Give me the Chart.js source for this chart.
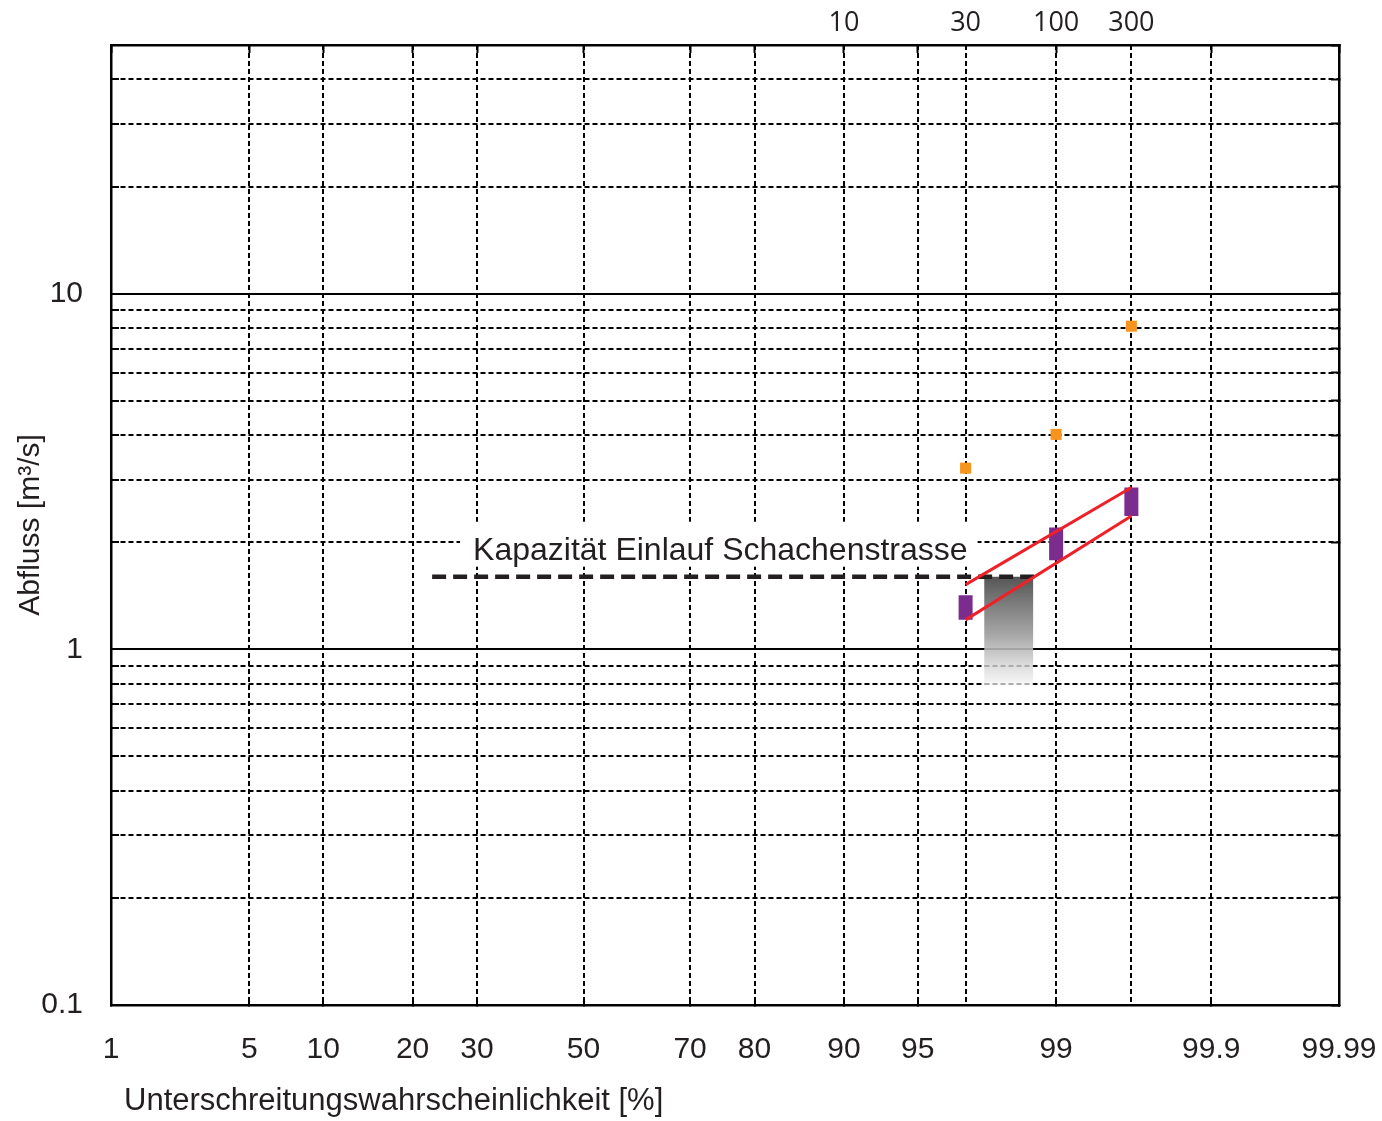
<!DOCTYPE html>
<html>
<head>
<meta charset="utf-8">
<script src="https://cdn.jsdelivr.net/npm/chart.js@4/dist/chart.umd.min.js"></script>
<style>
  html, body { margin: 0; padding: 0; background: #ffffff; }
  #wrap { width: 1382px; height: 1121px; }
</style>
</head>
<body>
<div id="wrap"><canvas id="c" width="1382" height="1121"></canvas></div>
<script>
// ---- axis ticks ----------------------------------------------------------
// Non-exceedance probabilities [%] on a normal probability grid
const probTicks  = [1, 5, 10, 20, 30, 50, 70, 80, 90, 95, 97, 99, 99.65, 99.9, 99.99];
const probLabels = ['1', '5', '10', '20', '30', '50', '70', '80', '90', '95', '', '99', '', '99.9', '99.99'];
// Return periods [years] shown along the top edge, and the probability they sit at
const returnPeriods     = ['10', '30', '100', '300'];
const returnPeriodProbs = [90, 97, 99, 99.65];
// Discharge grid [m3/s], logarithmic
const flowTicks  = [0.1, 0.2, 0.3, 0.4, 0.5, 0.6, 0.7, 0.8, 0.9,
                    1, 2, 3, 4, 5, 6, 7, 8, 9,
                    10, 20, 30, 40, 50];
const flowLabels = ['0.1', '', '', '', '', '', '', '', '',
                    '1', '', '', '', '', '', '', '', '',
                    '10', '', '', '', ''];

// ---- series ----------------------------------------------------------------
const eventProbs = [97, 99, 99.65];          // HQ30, HQ100, HQ300
const peakFlow   = [3.23, 4.02, 8.1];        // orange estimates
const rangeLow   = [1.21, 1.78, 2.37];       // purple ranges
const rangeHigh  = [1.42, 2.2, 2.85];
const bandProbs  = [97, 99.65];              // red envelope
const bandUpper  = [1.52, 2.85];
const bandLower  = [1.21, 2.37];
const capacityFlow  = 1.6;                   // inlet capacity
const capacityProbs = [22.8, 98.74];
const deficitProbs  = [97.57, 98.66];        // grey block below capacity
const deficitFloor  = 0.79;

const capacityText = 'Kapazität Einlauf Schachenstrasse';
const xTitle = 'Unterschreitungswahrscheinlichkeit [%]';
const yTitle = 'Abfluss [m³/s]';

// Inverse of the standard normal CDF (Acklam's rational approximation)
function probit(p) {
  const a = [-3.969683028665376e+01, 2.209460984245205e+02, -2.759285104469687e+02,
              1.383577518672690e+02, -3.066479806614716e+01, 2.506628277459239e+00];
  const b = [-5.447609879822406e+01, 1.615858368580409e+02, -1.556989798598866e+02,
              6.680131188771972e+01, -1.328068155288572e+01];
  const c = [-7.784894002430293e-03, -3.223964580411365e-01, -2.400758277161838e+00,
             -2.549732539343734e+00, 4.374664141464968e+00, 2.938163982698783e+00];
  const d = [7.784695709041462e-03, 3.224671290700398e-01, 2.445134137142996e+00,
             3.754408661907416e+00];
  const plow = 0.02425, phigh = 1 - plow;
  let q, r;
  if (p < plow) {
    q = Math.sqrt(-2 * Math.log(p));
    return (((((c[0]*q + c[1])*q + c[2])*q + c[3])*q + c[4])*q + c[5]) /
           ((((d[0]*q + d[1])*q + d[2])*q + d[3])*q + 1);
  }
  if (p <= phigh) {
    q = p - 0.5; r = q * q;
    return (((((a[0]*r + a[1])*r + a[2])*r + a[3])*r + a[4])*r + a[5]) * q /
           (((((b[0]*r + b[1])*r + b[2])*r + b[3])*r + b[4])*r + 1);
  }
  q = Math.sqrt(-2 * Math.log(1 - p));
  return -(((((c[0]*q + c[1])*q + c[2])*q + c[3])*q + c[4])*q + c[5]) /
          ((((d[0]*q + d[1])*q + d[2])*q + d[3])*q + 1);
}
const zOf = pct => probit(pct / 100);

// ---- build datasets from the arrays -------------------------------------
const INK = '#231F20';
const upperPts = bandProbs.map((p, i) => ({ x: zOf(p), y: bandUpper[i] }));
const lowerPts = bandProbs.map((p, i) => ({ x: zOf(p), y: bandLower[i] }));
const peakPts  = eventProbs.map((p, i) => ({ x: zOf(p), y: peakFlow[i] }));
const rangePts = [];
eventProbs.forEach((p, i) => {
  rangePts.push({ x: zOf(p), y: rangeLow[i] }, { x: zOf(p), y: rangeHigh[i] }, { x: zOf(p), y: null });
});
const capacityPts = capacityProbs.map(p => ({ x: zOf(p), y: capacityFlow }));
const deficitPts  = deficitProbs.map(p => ({ x: zOf(p), y: capacityFlow }));

const xMin = zOf(probTicks[0]);
const xMax = zOf(probTicks[probTicks.length - 1]);

Chart.defaults.font.family = "'Liberation Sans', Arial, Helvetica, sans-serif";
Chart.defaults.color = INK;

const labelled = i => probLabels[i] !== '';

// Fixed scale sizes; label overhang is allowed to run into the margins
const fixSize = (w, h) => s => {
  if (w !== null) s.width = w;
  if (h !== null) s.height = h;
  s.paddingLeft = s.paddingRight = s.paddingTop = s.paddingBottom = 0;
};

// Label box and x title, drawn with the chart's own scales
const annotations = {
  id: 'annotations',
  beforeDatasetsDraw(chart) {
    const { ctx, scales: { x, y } } = chart;
    const lineY = y.getPixelForValue(capacityFlow);
    const right = x.getPixelForValue(zOf(eventProbs[0])) + 2;
    ctx.save();
    ctx.font = "32px 'Liberation Sans', Arial, sans-serif";
    const w = ctx.measureText(capacityText).width;
    ctx.fillStyle = '#ffffff';
    ctx.fillRect(right - w - 13, lineY - 55, w + 23, 45);
    ctx.fillStyle = INK;
    ctx.textAlign = 'right';
    ctx.textBaseline = 'middle';
    ctx.fillText(capacityText, right, lineY - 26);
    ctx.restore();
  },
  afterDraw(chart) {
    const { ctx, chartArea } = chart;
    ctx.save();
    ctx.font = "31px 'Liberation Sans', Arial, sans-serif";
    ctx.fillStyle = INK;
    ctx.textAlign = 'left';
    ctx.textBaseline = 'middle';
    ctx.fillText(xTitle, chartArea.left + 13, chartArea.bottom + 96);
    ctx.restore();
  }
};

new Chart(document.getElementById('c'), {
  type: 'line',
  data: {
    datasets: [
      { data: upperPts, borderColor: '#EE2028', borderWidth: 3, pointRadius: 0, fill: false },
      { data: lowerPts, borderColor: '#EE2028', borderWidth: 3, pointRadius: 0, fill: false },
      { data: peakPts, showLine: false, pointStyle: 'rect', pointRadius: 7.8,
        pointBackgroundColor: '#F7941D', pointBorderWidth: 0 },
      { data: rangePts, borderColor: '#7B2C8E', borderWidth: 14, borderCapStyle: 'butt',
        pointRadius: 0, spanGaps: false, fill: false },
      { data: capacityPts, borderColor: INK, borderWidth: 4.5, borderDash: [14, 7],
        borderCapStyle: 'butt', pointRadius: 0, fill: false },
      { data: deficitPts, borderWidth: 0, pointRadius: 0,
        fill: { value: deficitFloor },
        backgroundColor: (c) => {
          const chart = c.chart;
          if (!chart.chartArea) return 'rgba(140,140,140,0.8)';
          const ys = chart.scales.y;
          const g = chart.ctx.createLinearGradient(0, ys.getPixelForValue(capacityFlow),
                                                   0, ys.getPixelForValue(deficitFloor));
          g.addColorStop(0, 'rgba(85,85,85,1)');
          g.addColorStop(0.55, 'rgba(165,165,165,0.95)');
          g.addColorStop(1, 'rgba(245,245,245,0.7)');
          return g;
        } }
    ]
  },
  options: {
    responsive: false,
    animation: false,
    events: [],
    layout: { padding: 0 },
    plugins: { legend: { display: false }, tooltip: { enabled: false } },
    scales: {
      x: {
        type: 'linear', position: 'bottom', min: xMin, max: xMax,
        afterBuildTicks: s => { s.ticks = probTicks.map(p => ({ value: zOf(p) })); },
        afterFit: fixSize(null, 116),
        ticks: {
          autoSkip: false, maxRotation: 0, minRotation: 0, padding: 35,
          font: { size: 30 }, color: INK,
          callback: (v, i) => probLabels[i]
        },
        grid: {
          color: '#000', lineWidth: 2, tickLength: -8, tickWidth: 2,
          tickColor: c => (c.index !== undefined && labelled(c.index)) ? '#000' : 'rgba(0,0,0,0)'
        },
        border: { display: true, color: '#000', width: 2.5, dash: [5, 3] }
      },
      x2: {
        type: 'linear', position: 'top', axis: 'x', min: xMin, max: xMax,
        afterBuildTicks: s => { s.ticks = probTicks.map(p => ({ value: zOf(p) })); },
        afterFit: fixSize(null, 45),
        ticks: {
          autoSkip: false, maxRotation: 0, minRotation: 0, padding: 13,
          font: { family: "'Open Sans', 'Noto Sans', sans-serif", size: 27 }, color: INK,
          callback: (v, i) => {
            const k = returnPeriodProbs.indexOf(probTicks[i]);
            return k >= 0 ? returnPeriods[k] : '';
          }
        },
        grid: {
          drawOnChartArea: false, tickLength: -8, tickWidth: 2,
          tickColor: c => (c.index !== undefined && labelled(c.index)) ? '#000' : 'rgba(0,0,0,0)'
        },
        border: { display: true, color: '#000', width: 2.5 }
      },
      y: {
        type: 'logarithmic', position: 'left', min: 0.1, max: 50,
        afterBuildTicks: s => { s.ticks = flowTicks.map(v => ({ value: v })); },
        afterFit: fixSize(111, null),
        ticks: {
          autoSkip: false, padding: 36, font: { size: 30 }, color: INK,
          callback: (v, i) => flowLabels[i]
        },
        grid: { color: '#000', lineWidth: 2, tickLength: -8, tickWidth: 2, tickColor: '#000' },
        border: {
          display: true, color: '#000', width: 2.5,
          dash: c => (c.tick && (c.tick.value === 1 || c.tick.value === 10)) || !c.tick ? [] : [5, 3]
        },
        title: { display: true, text: yTitle, font: { size: 30 }, color: INK, padding: { top: 13, bottom: 0 } }
      },
      y2: {
        type: 'logarithmic', position: 'right', axis: 'y', min: 0.1, max: 50,
        afterBuildTicks: s => { s.ticks = flowTicks.map(v => ({ value: v })); },
        afterFit: fixSize(43, null),
        ticks: { display: false },
        grid: { drawOnChartArea: false, tickLength: -8, tickWidth: 2, tickColor: '#000' },
        border: { display: true, color: '#000', width: 2.5 }
      }
    }
  },
  plugins: [annotations]
});
</script>
</body>
</html>
